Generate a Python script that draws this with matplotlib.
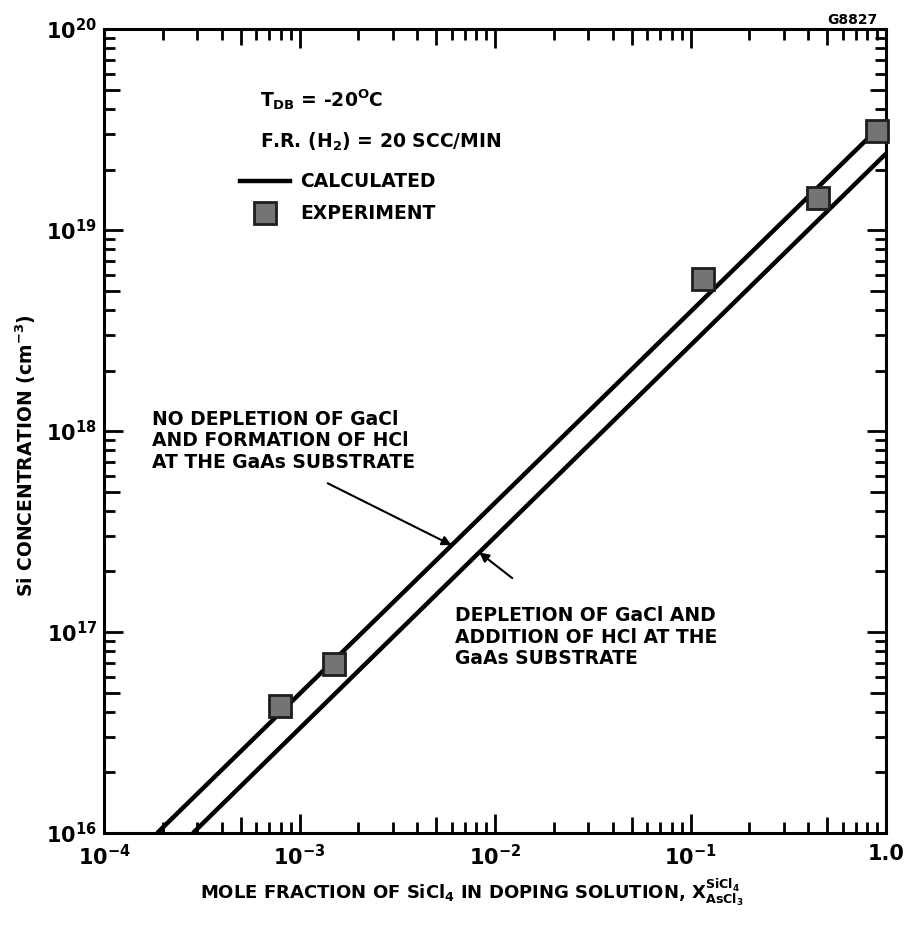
import numpy as np
import matplotlib
matplotlib.use("Agg")
import matplotlib.pyplot as plt
from matplotlib.ticker import FixedLocator, NullFormatter, FixedFormatter
from matplotlib.lines import Line2D

plt.rcParams["font.family"] = ["DejaVu Sans"]
plt.rcParams["font.weight"] = "bold"
plt.rcParams["axes.labelweight"] = "bold"
plt.rcParams["mathtext.fontset"] = "custom"
plt.rcParams["mathtext.rm"] = "DejaVu Sans:bold"
plt.rcParams["mathtext.it"] = "DejaVu Sans:bold"
plt.rcParams["mathtext.bf"] = "DejaVu Sans:bold"
plt.rcParams["mathtext.sf"] = "DejaVu Sans:bold"
plt.rcParams["mathtext.default"] = "rm"

# ---- data -------------------------------------------------------------
x_ticks = [1e-4, 1e-3, 1e-2, 1e-1, 1.0]
x_tick_labels = [r"$10^{-4}$", r"$10^{-3}$", r"$10^{-2}$", r"$10^{-1}$", "1.0"]
y_ticks = [1e16, 1e17, 1e18, 1e19, 1e20]
y_tick_labels = [r"$10^{16}$", r"$10^{17}$", r"$10^{18}$", r"$10^{19}$", r"$10^{20}$"]

# calculated curves (straight lines in log-log space)
no_depl_x = [1.87e-4, 1.0]
no_depl_y = [1e16, 3.5e19]
depl_x = [2.85e-4, 1.0]
depl_y = [1e16, 2.4e19]

# measured doping levels
exp_x = [7.9e-4, 1.5e-3, 0.116, 0.45, 0.9]
exp_y = [4.3e16, 6.9e16, 5.7e18, 1.44e19, 3.1e19]


def on_line(xs, ys, x):
    """Value of a log-log straight line at x."""
    return 10 ** np.interp(np.log10(x), np.log10(xs), np.log10(ys))


FS = 13.5
fig = plt.figure(figsize=(9.07, 9.27), dpi=100)
ax = fig.add_axes([0.1147, 0.1014, 0.8622, 0.8673])
ax.set_xscale("log")
ax.set_yscale("log")
ax.set_xlim(1e-4, 1.0)
ax.set_ylim(1e16, 1e20)

LW = 3.2
SQ = dict(ls="none", marker="s", ms=16, mfc="#747474", mec="#1e1e1e", mew=2.0)
ax.plot(no_depl_x, no_depl_y, color="black", lw=LW, solid_capstyle="butt")
ax.plot(depl_x, depl_y, color="black", lw=LW, solid_capstyle="butt")
ax.plot(exp_x, exp_y, zorder=5, clip_on=False, **SQ)

# ---- frame and ticks ----------------------------------------------------
for s in ax.spines.values():
    s.set_linewidth(2.2)

ax.xaxis.set_major_locator(FixedLocator(x_ticks))
ax.xaxis.set_major_formatter(FixedFormatter(x_tick_labels))
ax.yaxis.set_major_locator(FixedLocator(y_ticks))
ax.yaxis.set_major_formatter(FixedFormatter(y_tick_labels))

subs = [2, 3, 4, 6, 7, 8, 9]
x_minor = [m * 10.0 ** e for e in range(-4, 0) for m in subs]
y_minor = [m * 10.0 ** e for e in range(16, 20) for m in subs]
ax.xaxis.set_minor_locator(FixedLocator(x_minor))
ax.yaxis.set_minor_locator(FixedLocator(y_minor))
ax.xaxis.set_minor_formatter(NullFormatter())
ax.yaxis.set_minor_formatter(NullFormatter())

ax.tick_params(which="both", direction="in", top=True, right=True,
               width=2.0, color="black")
ax.tick_params(which="major", length=14, labelsize=15)
ax.tick_params(which="minor", length=8)
ax.tick_params(axis="y", which="major", pad=5)
ax.tick_params(axis="x", which="major", pad=8)

# half-decade ticks, a little longer than the minor ones
x_half = [5 * 10.0 ** e for e in range(-4, 0)]
y_half = [5 * 10.0 ** e for e in range(16, 20)]
for loc in ("top", "bottom"):
    sec = ax.secondary_xaxis(loc)
    sec.set_xticks(x_half)
    sec.xaxis.set_minor_locator(FixedLocator([]))
    sec.tick_params(direction="in", length=11.5, width=2.0,
                    labelbottom=False, labeltop=False)
    for s in sec.spines.values():
        s.set_visible(False)
for loc in ("left", "right"):
    sec = ax.secondary_yaxis(loc)
    sec.set_yticks(y_half)
    sec.yaxis.set_minor_locator(FixedLocator([]))
    sec.tick_params(direction="in", length=11.5, width=2.0,
                    labelleft=False, labelright=False)
    for s in sec.spines.values():
        s.set_visible(False)

# ---- axis titles --------------------------------------------------------
ax.set_xlabel("MOLE FRACTION OF SiCl$_4$ IN DOPING SOLUTION, X$^{SiCl_4}_{AsCl_3}$",
              fontsize=13, labelpad=8)
ax.xaxis.set_label_coords(0.47, -0.055, transform=ax.transAxes)
ax.xaxis.label.set_va("top")
ax.set_ylabel("Si CONCENTRATION (cm$^{-3}$)", fontsize=13.5)
ax.yaxis.set_label_coords(-0.085, 0.47)

# ---- key and conditions -------------------------------------------------
ax.text(0.1995, 0.903, r"T$_{DB}$ = -20$^{O}$C", transform=ax.transAxes,
        fontsize=FS, va="baseline")
ax.text(0.1995, 0.852, r"F.R. (H$_2$) = 20 SCC/MIN", transform=ax.transAxes,
        fontsize=FS, va="baseline")
handles = [Line2D([], [], color="black", lw=LW), Line2D([], [], **SQ)]
ax.legend(handles, ["CALCULATED", "EXPERIMENT"], loc="upper left",
          bbox_to_anchor=(0.174, 0.822), frameon=False, fontsize=FS,
          handlelength=2.67, handletextpad=0.53, labelspacing=0.7,
          borderaxespad=0.0, borderpad=0.0)

# ---- curve annotations --------------------------------------------------
ax.text(0.061, 0.526,
        "NO DEPLETION OF GaCl\nAND FORMATION OF HCl\nAT THE GaAs SUBSTRATE",
        transform=ax.transAxes, fontsize=FS, va="top", ha="left",
        linespacing=1.15)
ax.text(0.449, 0.282,
        "DEPLETION OF GaCl AND\nADDITION OF HCl AT THE\nGaAs SUBSTRATE",
        transform=ax.transAxes, fontsize=FS, va="top", ha="left",
        linespacing=1.15)

arrow = dict(arrowstyle="-|>", lw=1.5, color="black", mutation_scale=14,
             shrinkA=0, shrinkB=0)
xa = 6.0e-3
ax.annotate("", xy=(xa, on_line(no_depl_x, no_depl_y, xa)),
            xytext=(0.286, 0.435), textcoords="axes fraction",
            arrowprops=arrow)
xb = 8.3e-3
ax.annotate("", xy=(xb, on_line(depl_x, depl_y, xb)),
            xytext=(0.522, 0.317), textcoords="axes fraction",
            arrowprops=arrow)

fig.text(0.968, 0.986, "G8827", fontsize=10, ha="right", va="top")

fig.savefig("out.png", dpi=100)
